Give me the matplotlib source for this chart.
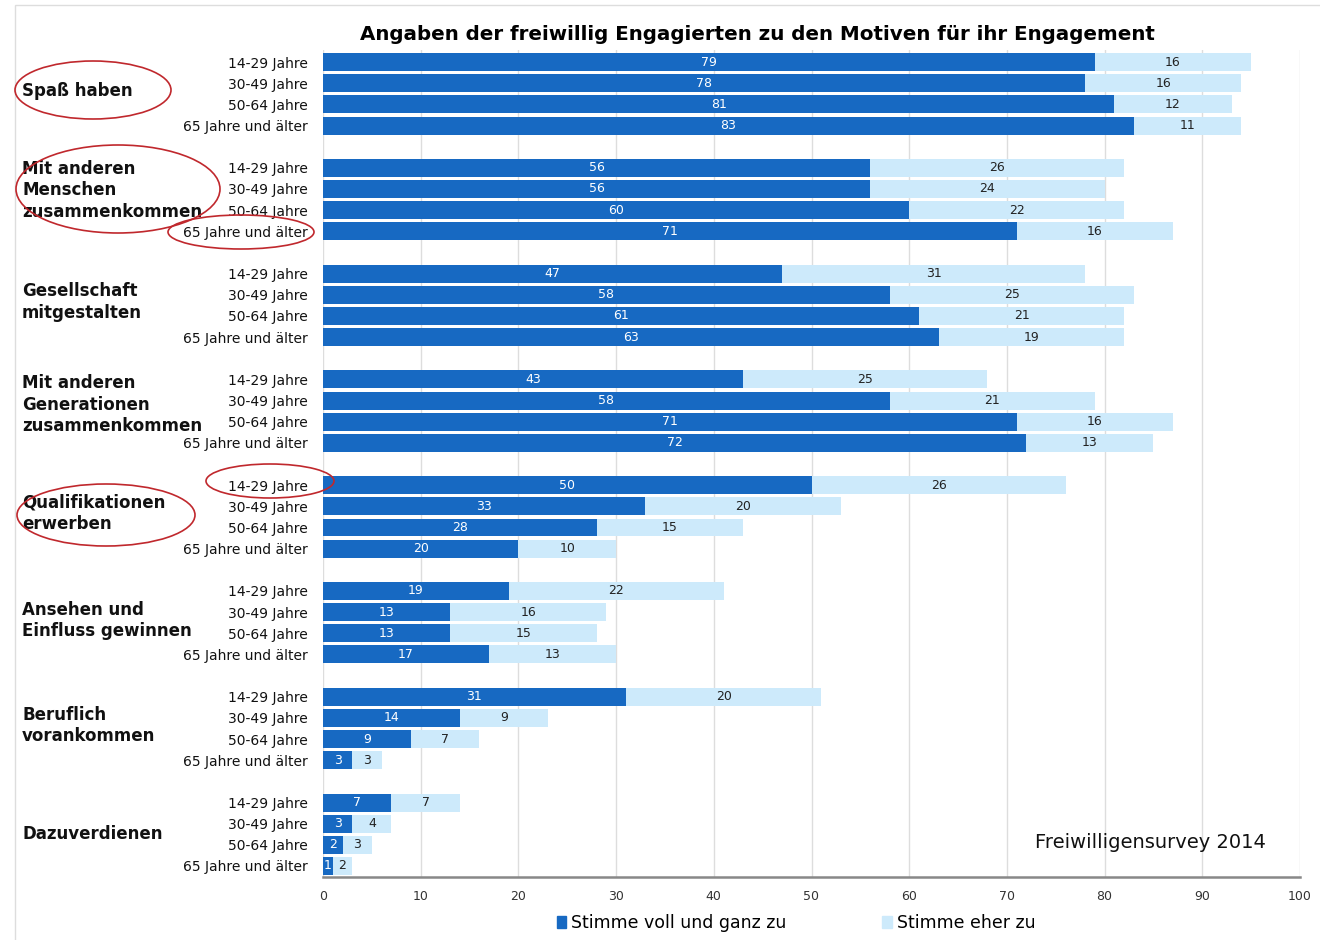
import matplotlib
matplotlib.use("Agg")
import matplotlib.pyplot as plt
from matplotlib.patches import Ellipse, Patch, Rectangle
import matplotlib.transforms as mtrans
import numpy as np

plt.rcParams['font.family'] = ['DejaVu Sans']

title = "Angaben der freiwillig Engagierten zu den Motiven für ihr Engagement"
categories = [
    "Spaß haben",
    "Mit anderen\nMenschen\nzusammenkommen",
    "Gesellschaft\nmitgestalten",
    "Mit anderen\nGenerationen\nzusammenkommen",
    "Qualifikationen\nerwerben",
    "Ansehen und\nEinfluss gewinnen",
    "Beruflich\nvorankommen",
    "Dazuverdienen",
]
age_groups = ["14-29 Jahre", "30-49 Jahre", "50-64 Jahre", "65 Jahre und älter"]
voll = [
    [79, 78, 81, 83],
    [56, 56, 60, 71],
    [47, 58, 61, 63],
    [43, 58, 71, 72],
    [50, 33, 28, 20],
    [19, 13, 13, 17],
    [31, 14, 9, 3],
    [7, 3, 2, 1],
]
eher = [
    [16, 16, 12, 11],
    [26, 24, 22, 16],
    [31, 25, 21, 19],
    [25, 21, 16, 13],
    [26, 20, 15, 10],
    [22, 16, 15, 13],
    [20, 9, 7, 3],
    [7, 4, 3, 2],
]
series_names = ["Stimme voll und ganz zu", "Stimme eher zu"]
source = "Freiwilligensurvey 2014"
xticks = list(range(0, 101, 10))

DARK = "#1769c2"
LIGHT = "#cdeafb"

W, H = 1320, 940
fig = plt.figure(figsize=(W / 100, H / 100), dpi=100)
ax = fig.add_axes([323 / W, 1 - 877 / H, (1300 - 323) / W, (877 - 50) / H])

ypos, labels, v_all, e_all = [], [], [], []
for g in range(len(categories)):
    for r in range(len(age_groups)):
        ypos.append(g * 5 + r)
        labels.append(age_groups[r])
        v_all.append(voll[g][r])
        e_all.append(eher[g][r])
ypos = np.array(ypos)
v_all = np.array(v_all)
e_all = np.array(e_all)

bh = 0.85
ax.barh(ypos, v_all, height=bh, color=DARK, zorder=3)
ax.barh(ypos, e_all, left=v_all, height=bh, color=LIGHT, zorder=3)
for y, v, e in zip(ypos, v_all, e_all):
    ax.text(v / 2, y, str(v), ha='center', va='center', color='white', fontsize=9, zorder=4)
    ax.text(v + e / 2, y, str(e), ha='center', va='center', color='#222222', fontsize=9, zorder=4)

ax.set_xlim(0, 100)
ax.set_ylim(38.52, -0.57)
ax.set_yticks(ypos)
ax.set_yticklabels(labels, fontsize=10, color='#111111')
ax.set_xticks(xticks)
ax.set_xticklabels([str(t) for t in xticks], fontsize=9, color='#333333')
ax.tick_params(axis='y', length=0, pad=11)
ax.tick_params(axis='x', length=0, pad=9)
ax.grid(axis='x', color='#dddddd', linewidth=1, zorder=0)
for s in ['top', 'right', 'left']:
    ax.spines[s].set_visible(False)
ax.spines['bottom'].set_color('#888888')
ax.spines['bottom'].set_linewidth(1.8)

trans = mtrans.blended_transform_factory(fig.transFigure, ax.transData)
offsets = [-0.15, -0.45, -0.15, -0.3, -0.15, -0.1, -0.15, 0.0]
for g, cat in enumerate(categories):
    yc = g * 5 + 1.5 + offsets[g]
    ax.text(22 / W, yc, cat, transform=trans, ha='left', va='center',
            fontsize=12, fontweight='bold', linespacing=1.25, color='#111111')

fig.text(757 / W, 1 - 34 / H, title, ha='center', va='center', fontsize=14.3, fontweight='bold')
fig.text(1150 / W, 1 - 842 / H, source, ha='center', va='center', fontsize=14, color='#111111')

handles = [Patch(color=DARK), Patch(color=LIGHT)]
fig.legend(handles, series_names, loc='center', bbox_to_anchor=(796 / W, 1 - 923 / H),
           ncol=2, frameon=False, fontsize=12.5, handlelength=0.55, handleheight=0.7,
           handletextpad=0.3, columnspacing=5.5)

# red hand-drawn ellipses
for (cx, cy, w, h) in [(93, 90, 156, 58), (118, 189, 204, 88), (241, 232, 146, 34),
                       (270, 481, 128, 34), (106, 515, 178, 62)]:
    e = Ellipse((cx / W, 1 - cy / H), w / W, h / H, transform=fig.transFigure,
                fill=False, edgecolor='#c0282d', linewidth=1.2, zorder=10)
    fig.add_artist(e)

fig.add_artist(Rectangle((15 / W, -0.01), 1.0, 1 - 5 / H + 0.01, transform=fig.transFigure,
                         fill=False, edgecolor='#dddddd', linewidth=1))

fig.savefig("out.png", dpi=100)
